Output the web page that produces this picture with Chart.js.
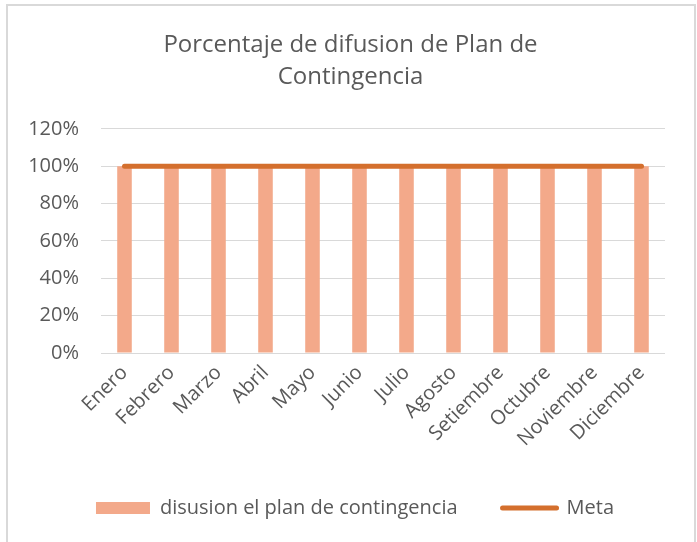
<!DOCTYPE html>
<html>
<head>
<meta charset="utf-8">
<script src="https://cdn.jsdelivr.net/npm/chart.js@4"></script>
<style>
  html, body { margin:0; padding:0; background:#fff; overflow:hidden; width:697px; height:542px; }
  #marco { position:absolute; left:6px; top:4px; width:686px; height:600px; border:2px solid #d9d9d9; border-bottom:none; }
  #wrap { position:absolute; left:0; top:0; width:697px; height:542px; }
</style>
</head>
<body>
<div id="marco"></div>
<div id="wrap"><canvas id="grafico" width="697" height="542"></canvas></div>
<script>
// datos del grafico
var meses = ["Enero","Febrero","Marzo","Abril","Mayo","Junio","Julio","Agosto","Setiembre","Octubre","Noviembre","Diciembre"]
var difusion = [1,1,1,1,1,1,1,1,1,1,1,1]   // 100% cada mes
var meta = [1,1,1,1,1,1,1,1,1,1,1,1]
var titulo = ["Porcentaje de difusion de Plan de","Contingencia"]
var nombresSeries = ["disusion el plan de contingencia","Meta"]

var colorBarra = "#F3A98A"
var colorMeta = "#D46F2D"
var colorTexto = "#595959"
var fuente = "'Open Sans', 'Noto Sans', sans-serif"

// mover leyenda y titulo un poco a la derecha (como en excel)
const moverBloques = {
    id: 'moverBloques',
    afterLayout: (chart) => {
        if(chart.legend){ chart.legend.left = 45 }
        if(chart.titleBlock){ chart.titleBlock.left = 36 }
    }
};

var config = {
    type: 'bar',
    data: {
        labels: meses,
        datasets: [{
            label: nombresSeries[0],
            data: difusion,
            backgroundColor: colorBarra,
            categoryPercentage: 1,
            barPercentage: 0.31,
            order: 1
        },{
            type: 'line',
            label: nombresSeries[1],
            data: meta,
            borderColor: colorMeta,
            backgroundColor: colorMeta,
            borderWidth: 5,
            borderCapStyle: 'round',
            pointRadius: 0,
            pointStyle: 'line',
            fill: false,
            order: 0
        }]
    },
    options: {
        responsive: false,
        animation: false,
        layout: { padding: { left: 10, right: 32, top: 0, bottom: 14 } },
        plugins: {
            tooltip: { enabled: false },
            title: {
                display: true,
                text: titulo,
                color: colorTexto,
                font: { family: fuente, size: 24, weight: 'normal', lineHeight: 1.35 },
                padding: { top: 29, bottom: 35 }
            },
            legend: {
                position: 'bottom',
                labels: {
                    color: colorTexto,
                    font: { family: fuente, size: 20 },
                    usePointStyle: true,
                    pointStyleWidth: 54,
                    boxHeight: 12,
                    padding: 45,
                    sort: function(a, b){ return a.datasetIndex - b.datasetIndex },
                    generateLabels: function(chart){
                        var items = Chart.defaults.plugins.legend.labels.generateLabels(chart)
                        items.forEach(function(it){
                            if(it.datasetIndex == 0){
                                it.pointStyle = 'rect'
                                it.lineWidth = 0
                                it.strokeStyle = colorBarra
                            } else {
                                it.pointStyle = 'line'
                                it.lineWidth = 5
                                it.lineCap = 'round'
                                it.strokeStyle = colorMeta
                            }
                        })
                        return items
                    }
                }
            }
        },
        scales: {
            y: {
                min: 0,
                max: 1.2,
                ticks: {
                    stepSize: 0.2,
                    color: colorTexto,
                    padding: 22,
                    font: { family: fuente, size: 20 },
                    callback: function(v){ return Math.round(v*100) + '%' }
                },
                grid: { color: '#d9d9d9', lineWidth: 1, drawTicks: false },
                border: { display: false },
                afterFit: function(scale){ scale.width = 91 }
            },
            x: {
                ticks: {
                    color: colorTexto,
                    font: { family: fuente, size: 20 },
                    minRotation: 45,
                    maxRotation: 45,
                    padding: 8,
                    autoSkip: false
                },
                grid: { display: false, drawTicks: false },
                border: { display: false },
                afterFit: function(scale){ scale.height = 100 }
            }
        }
    },
    plugins: [moverBloques]
}

var grafico = new Chart(document.getElementById('grafico'), config)
</script>
</body>
</html>
